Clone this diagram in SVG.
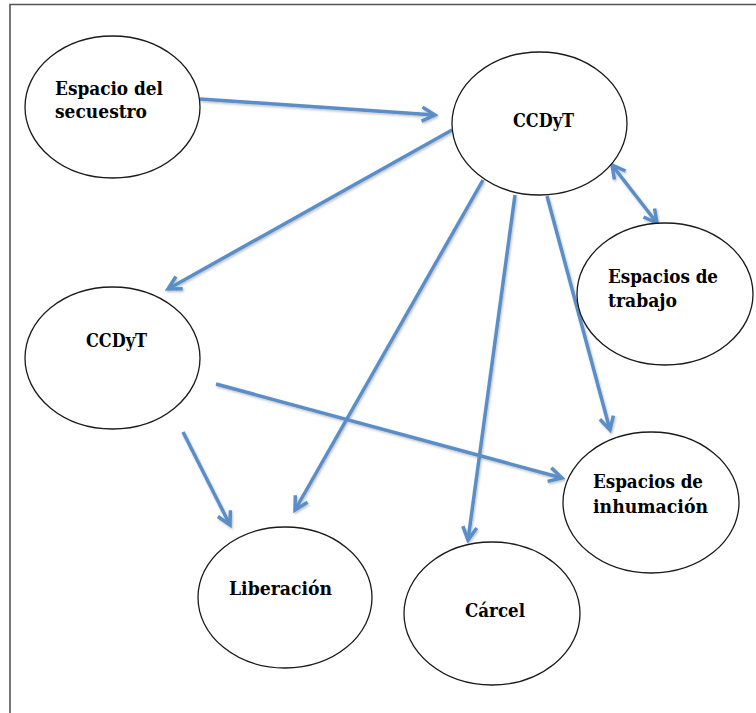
<svg xmlns="http://www.w3.org/2000/svg" width="756" height="713" viewBox="0 0 756 713">
<style>
.node ellipse{fill:#fff;stroke:#1a1a1a;stroke-width:1.3}
.node text{font-family:"DejaVu Serif","Liberation Serif",serif;font-weight:bold;font-size:19px;fill:#000}
.conn line{stroke:#5a8ec8;stroke-width:3.5;fill:none}
.frame{stroke:#555;stroke-width:1.6;fill:none}
</style>
<defs>
<marker id="ah" viewBox="0 0 18 18" refX="15" refY="9" markerWidth="18" markerHeight="18" markerUnits="userSpaceOnUse" orient="auto-start-reverse">
<path d="M2,2 L15,9 L2,16" fill="none" stroke="#5a8ec8" stroke-width="3.5" stroke-linejoin="miter"/>
</marker>
<filter id="sh" x="-10%" y="-10%" width="120%" height="120%">
<feDropShadow dx="1" dy="1.5" stdDeviation="1" flood-color="#000" flood-opacity="0.25"/>
</filter>
</defs>
<rect width="756" height="713" fill="#fff"/>
<path class="frame" d="M10,713 L10,4.5 L756,4.5"/>
<g class="conn" filter="url(#sh)">
<line x1="200" y1="99" x2="435" y2="115" marker-end="url(#ah)"/>
<line x1="452" y1="130" x2="168" y2="289" marker-end="url(#ah)"/>
<line x1="483" y1="180" x2="295" y2="510" marker-end="url(#ah)"/>
<line x1="515" y1="195" x2="468" y2="540" marker-end="url(#ah)"/>
<line x1="547" y1="196" x2="610" y2="430" marker-end="url(#ah)"/>
<line x1="216" y1="384" x2="562" y2="478" marker-end="url(#ah)"/>
<line x1="183" y1="432" x2="230" y2="525" marker-end="url(#ah)"/>
<line x1="612" y1="165" x2="657" y2="223" marker-start="url(#ah)" marker-end="url(#ah)"/>
</g>
<g id="n-secuestro" class="node">
<ellipse cx="112.5" cy="107" rx="87.5" ry="71"/>
<text x="55" y="95" textLength="108" lengthAdjust="spacingAndGlyphs">Espacio del</text>
<text x="55" y="118" textLength="92" lengthAdjust="spacingAndGlyphs">secuestro</text>
</g>
<g id="n-ccdyt1" class="node">
<ellipse cx="539.5" cy="123.5" rx="87.5" ry="71.5"/>
<text x="513" y="127" textLength="61" lengthAdjust="spacingAndGlyphs">CCDyT</text>
</g>
<g id="n-trabajo" class="node">
<ellipse cx="665" cy="294" rx="88" ry="71"/>
<text x="608" y="283" textLength="110" lengthAdjust="spacingAndGlyphs">Espacios de</text>
<text x="608" y="307" textLength="69" lengthAdjust="spacingAndGlyphs">trabajo</text>
</g>
<g id="n-ccdyt2" class="node">
<ellipse cx="112.5" cy="358" rx="87.5" ry="71"/>
<text x="86" y="347" textLength="61" lengthAdjust="spacingAndGlyphs">CCDyT</text>
</g>
<g id="n-inhumacion" class="node">
<ellipse cx="651" cy="502.5" rx="88" ry="70.5"/>
<text x="593" y="488" textLength="110" lengthAdjust="spacingAndGlyphs">Espacios de</text>
<text x="593" y="513" textLength="115" lengthAdjust="spacingAndGlyphs">inhumación</text>
</g>
<g id="n-liberacion" class="node">
<ellipse cx="285" cy="597.5" rx="87" ry="70.5"/>
<text x="229" y="595" textLength="103" lengthAdjust="spacingAndGlyphs">Liberación</text>
</g>
<g id="n-carcel" class="node">
<ellipse cx="492" cy="613.5" rx="88" ry="71.5"/>
<text x="465" y="617" textLength="60" lengthAdjust="spacingAndGlyphs">Cárcel</text>
</g>
</svg>
